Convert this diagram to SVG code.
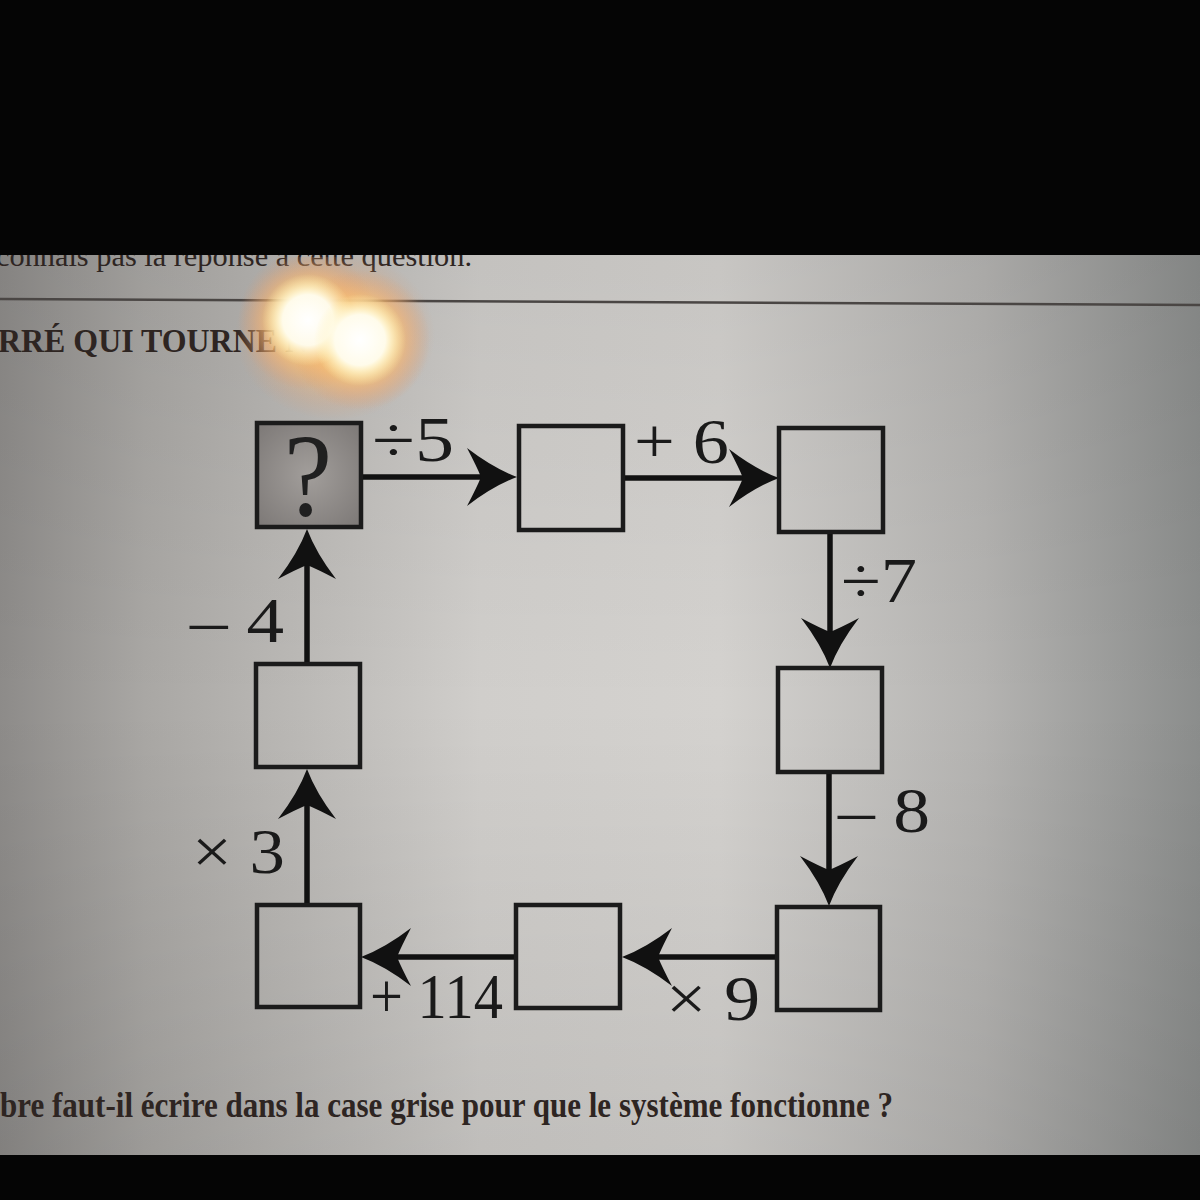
<svg xmlns="http://www.w3.org/2000/svg" width="1200" height="1200" viewBox="0 0 1200 1200">
  <defs>
    <linearGradient id="screen" x1="0" y1="0" x2="1" y2="0">
      <stop offset="0" stop-color="#8d8b89"/>
      <stop offset="0.12" stop-color="#a9a7a4"/>
      <stop offset="0.4" stop-color="#d0cecb"/>
      <stop offset="0.6" stop-color="#d4d2cf"/>
      <stop offset="0.82" stop-color="#b4b3b1"/>
      <stop offset="1" stop-color="#8b8d8c"/>
    </linearGradient>
    <linearGradient id="vshade" x1="0" y1="0" x2="0" y2="1">
      <stop offset="0" stop-color="#000" stop-opacity="0.06"/>
      <stop offset="0.5" stop-color="#000" stop-opacity="0"/>
      <stop offset="1" stop-color="#000" stop-opacity="0.08"/>
    </linearGradient>
    <radialGradient id="qfill" cx="0.5" cy="0.5" r="0.7">
      <stop offset="0" stop-color="#a29e9b"/>
      <stop offset="1" stop-color="#7c7876"/>
    </radialGradient>
    <radialGradient id="halo" cx="0.5" cy="0.5" r="0.5">
      <stop offset="0" stop-color="#fff8d0" stop-opacity="1"/>
      <stop offset="0.4" stop-color="#ffd878" stop-opacity="0.9"/>
      <stop offset="0.7" stop-color="#f4b070" stop-opacity="0.45"/>
      <stop offset="1" stop-color="#e09868" stop-opacity="0"/>
    </radialGradient>
    <radialGradient id="core" cx="0.5" cy="0.5" r="0.5">
      <stop offset="0" stop-color="#ffffff" stop-opacity="1"/>
      <stop offset="0.55" stop-color="#fffdf0" stop-opacity="0.95"/>
      <stop offset="1" stop-color="#fff2b8" stop-opacity="0"/>
    </radialGradient>
    <clipPath id="scr"><rect x="0" y="257" width="1200" height="898"/></clipPath>
    <marker id="ah" viewBox="0 0 52 60" refX="14" refY="30" markerWidth="52" markerHeight="60" markerUnits="userSpaceOnUse" orient="auto">
      <path d="M50,30 Q26,21 0,1 Q10,20 14,30 Q10,40 0,59 Q26,39 50,30 Z" fill="#111"/>
    </marker>
    <style>
      .box{fill:none;stroke:#1b1b1b;stroke-width:4.5}
      .lbl{font-family:"Liberation Serif","Times New Roman",serif;font-size:64px;fill:#1a1a1a}
      .con{stroke:#111;stroke-width:5.5;fill:none;marker-end:url(#ah)}
      .page{font-family:"Liberation Serif","Times New Roman",serif;fill:#2e2522}
    </style>
  </defs>

  <!-- photo background -->
  <rect x="0" y="0" width="1200" height="1200" fill="#050505"/>
  <rect x="0" y="255" width="1200" height="900" fill="url(#screen)"/>
  <rect x="0" y="255" width="1200" height="900" fill="url(#vshade)"/>

  <!-- page texts -->
  <text class="page" x="-4" y="266" font-size="30" textLength="476" lengthAdjust="spacingAndGlyphs" fill="#3f3430">connais pas la réponse à cette question.</text>
  <rect x="0" y="0" width="1200" height="255" fill="#050505"/>
  <line x1="0" y1="299" x2="1200" y2="305" stroke="#4a4644" stroke-width="2.5"/>
  <text class="page" x="-2" y="352" font-size="34" font-weight="bold" textLength="310" lengthAdjust="spacingAndGlyphs">RRÉ QUI TOURNE N</text>
  <text class="page" x="0" y="1117" font-size="36" font-weight="bold" textLength="893" lengthAdjust="spacingAndGlyphs" fill="#1e1a19">bre faut-il écrire dans la case grise pour que le système fonctionne ?</text>

  <!-- glare -->
  <g id="glare" clip-path="url(#scr)">
    <ellipse cx="335" cy="335" rx="100" ry="85" fill="url(#halo)" opacity="0.7"/>
    <circle cx="308" cy="320" r="70" fill="url(#halo)"/>
    <circle cx="360" cy="340" r="70" fill="url(#halo)"/>
    <circle cx="308" cy="320" r="46" fill="url(#core)"/>
    <circle cx="360" cy="340" r="46" fill="url(#core)"/>
  </g>

  <!-- connectors -->
  <g id="connectors">
    <line class="con" x1="361" y1="477" x2="481" y2="477"/>
    <line class="con" x1="623" y1="478" x2="743" y2="478"/>
    <line class="con" x1="830" y1="532" x2="830" y2="632"/>
    <line class="con" x1="829" y1="772" x2="829" y2="870"/>
    <line class="con" x1="777" y1="957" x2="658" y2="957"/>
    <line class="con" x1="516" y1="957" x2="397" y2="957"/>
    <line class="con" x1="307" y1="905" x2="307" y2="805"/>
    <line class="con" x1="307" y1="664" x2="307" y2="565"/>
  </g>

  <!-- connector labels -->
  <g id="labels">
    <text class="lbl" x="372" y="461" textLength="82" lengthAdjust="spacingAndGlyphs">÷5</text>
    <text class="lbl" x="634" y="463" textLength="95" lengthAdjust="spacingAndGlyphs">+ 6</text>
    <text class="lbl" x="841" y="602" textLength="76" lengthAdjust="spacingAndGlyphs">÷7</text>
    <text class="lbl" x="190" y="642" textLength="94" lengthAdjust="spacingAndGlyphs">– 4</text>
    <text class="lbl" x="838" y="832" textLength="92" lengthAdjust="spacingAndGlyphs">– 8</text>
    <text class="lbl" x="192" y="873" textLength="93" lengthAdjust="spacingAndGlyphs">× 3</text>
    <text class="lbl" x="370" y="1018" textLength="133" lengthAdjust="spacingAndGlyphs">+ 114</text>
    <text class="lbl" x="666" y="1020" textLength="94" lengthAdjust="spacingAndGlyphs">× 9</text>
  </g>

  <!-- nodes -->
  <g id="n-start">
    <rect x="257" y="423" width="104" height="104" fill="url(#qfill)" stroke="#1b1b1b" stroke-width="4.5"/>
    <text x="284" y="515" font-family="'Liberation Serif','Times New Roman',serif" font-size="118" fill="#202020" textLength="48" lengthAdjust="spacingAndGlyphs">?</text>
  </g>
  <g id="n-2"><rect class="box" x="519" y="426" width="104" height="104"/></g>
  <g id="n-3"><rect class="box" x="779" y="428" width="104" height="104"/></g>
  <g id="n-4"><rect class="box" x="778" y="668" width="104" height="104"/></g>
  <g id="n-5"><rect class="box" x="777" y="907" width="103" height="103"/></g>
  <g id="n-6"><rect class="box" x="516" y="905" width="104" height="103"/></g>
  <g id="n-7"><rect class="box" x="257" y="905" width="103" height="102"/></g>
  <g id="n-8"><rect class="box" x="256" y="664" width="104" height="103"/></g>

  <rect x="0" y="1155" width="1200" height="45" fill="#050505"/>
</svg>
